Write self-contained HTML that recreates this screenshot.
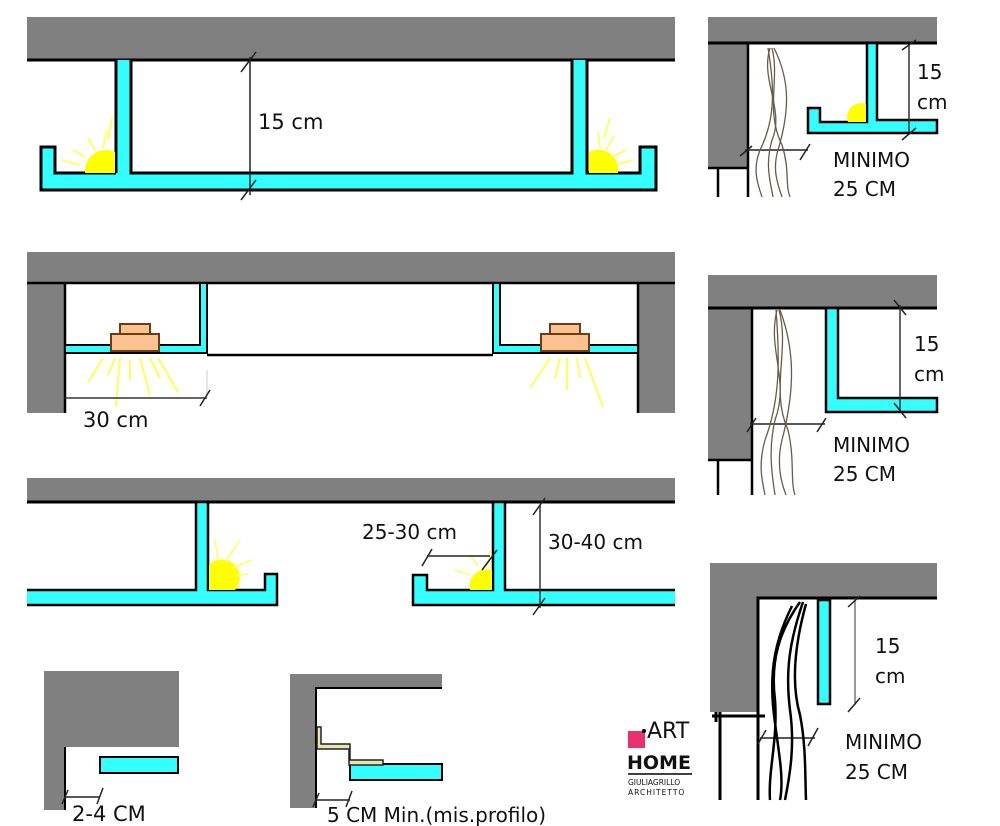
<!DOCTYPE html>
<html><head><meta charset="utf-8"><style>
html,body{margin:0;padding:0;background:#fff}
svg{display:block}
text{font-family:"DejaVu Sans","Liberation Sans",sans-serif;fill:#111}
</style></head><body>
<svg width="1000" height="826" viewBox="0 0 1000 826" xmlns="http://www.w3.org/2000/svg">
<defs>
<g id="sunL"><path d="M0,0 A17,17 0 0 1 34,0 Z" fill="#ffff00"/></g>
</defs>
<!-- ===== Panel 1 ===== -->
<rect x="27" y="17" width="648" height="43" fill="#808080"/>
<line x1="27" y1="60" x2="675" y2="60" stroke="#000" stroke-width="3"/>
<path d="M116,60 V173 H572 V60 H587 V173 H640 V147 H656 V190 H41 V147 H55 V173 H131 V60" fill="#33ffff" stroke="none"/>
<path d="M116,60 V173 M131,60 V173 H572 V60 M587,60 V173 H640 V147 H656 V190 H41 V147 H55 V173 H116" fill="none" stroke="#000" stroke-width="3"/>
<path d="M85,173 A21,21 0 0 1 115,152 V173 Z" fill="#ffff00"/>
<path d="M589,152 A20,20 0 0 1 618,173 H589 Z" fill="#ffff00"/>
<g stroke="#ffff66" stroke-width="2">
<line x1="103" y1="148" x2="107" y2="130"/><line x1="95" y1="150" x2="88" y2="138"/><line x1="85" y1="157" x2="73" y2="150"/><line x1="80" y1="165" x2="62" y2="160"/><line x1="108" y1="140" x2="112" y2="118"/>
<line x1="600" y1="148" x2="598" y2="132"/><line x1="606" y1="150" x2="614" y2="136"/><line x1="614" y1="156" x2="626" y2="150"/><line x1="618" y1="164" x2="633" y2="160"/><line x1="604" y1="138" x2="610" y2="118"/>
</g>
<line x1="250" y1="57" x2="250" y2="195" stroke="#222" stroke-width="1.5"/>
<line x1="241" y1="72" x2="256" y2="52" stroke="#222" stroke-width="1.5"/>
<line x1="241" y1="200" x2="256" y2="180" stroke="#222" stroke-width="1.5"/>
<text x="258" y="129" font-size="21">15 cm</text>

<!-- ===== Panel 2 (top right) ===== -->
<rect x="708" y="17" width="229" height="26" fill="#808080"/>
<rect x="708" y="43" width="40" height="125" fill="#808080"/>
<path d="M708,43 H937" stroke="#000" stroke-width="3"/>
<path d="M748,43 V197 M708,168 H748 M718,168 V197" stroke="#000" stroke-width="2.5" fill="none"/>
<path d="M867,43 V120 H808 V108 H820 V122 H867" fill="none"/>
<path d="M867,43 H877 V120 H937 V133 H808 V108 H820 V122 H867 Z" fill="#33ffff" stroke="#000" stroke-width="2.5"/>
<path d="M848,122 A14,14 0 0 1 866,104 V122 Z" fill="#ffff00"/>
<line x1="909" y1="44" x2="909" y2="132" stroke="#333" stroke-width="1.5"/>
<line x1="902" y1="50" x2="916" y2="40"/><line x1="902" y1="140" x2="916" y2="128" stroke="#222" stroke-width="1.5"/>
<line x1="902" y1="50" x2="916" y2="40" stroke="#222" stroke-width="1.5"/>
<line x1="745" y1="150" x2="808" y2="150" stroke="#222" stroke-width="1.5"/>
<line x1="740" y1="156" x2="752" y2="146" stroke="#222" stroke-width="1.5"/><line x1="800" y1="160" x2="810" y2="144" stroke="#222" stroke-width="1.5"/>
<g fill="none" stroke="#6b5a48" stroke-width="1.3">
<path d="M770,48 C760,80 785,110 772,140 C765,165 770,180 773,197"/>
<path d="M772,48 C780,80 765,110 782,145 C790,170 785,185 790,197"/>
<path d="M768,48 C775,90 775,120 760,150 C752,170 758,185 762,197"/>
<path d="M774,48 C790,80 790,110 778,150 C772,170 778,185 782,197"/>
</g>
<text x="917" y="79" font-size="20">15</text>
<text x="917" y="109" font-size="20">cm</text>
<text x="833" y="167" font-size="20">MINIMO</text>
<text x="833" y="196" font-size="20">25 CM</text>

<!-- ===== Panel 3 (middle right) ===== -->
<rect x="708" y="275" width="229" height="33" fill="#808080"/>
<rect x="708" y="308" width="44" height="152" fill="#808080"/>
<path d="M708,308 H937" stroke="#000" stroke-width="3"/>
<path d="M752,308 V495 M708,460 H752 M718,460 V495" stroke="#000" stroke-width="2.5" fill="none"/>
<path d="M826,308 H838 V398 H937 V412 H826 Z" fill="#33ffff" stroke="#000" stroke-width="2.5"/>
<line x1="900" y1="305" x2="900" y2="410" stroke="#333" stroke-width="1.5"/>
<line x1="894" y1="300" x2="906" y2="315" stroke="#222" stroke-width="1.5"/>
<line x1="894" y1="403" x2="906" y2="418" stroke="#222" stroke-width="1.5"/>
<line x1="750" y1="424" x2="825" y2="424" stroke="#222" stroke-width="1.5"/>
<line x1="747" y1="432" x2="756" y2="418" stroke="#222" stroke-width="1.5"/><line x1="817" y1="432" x2="826" y2="418" stroke="#222" stroke-width="1.5"/>
<g fill="none" stroke="#6b5a48" stroke-width="1.3">
<path d="M777,310 C767,350 790,380 775,420 C768,450 772,475 775,495"/>
<path d="M779,310 C790,350 770,390 788,430 C795,460 790,480 795,495"/>
<path d="M776,310 C780,360 780,400 765,440 C758,465 762,480 765,495"/>
<path d="M780,310 C795,350 795,390 782,440 C776,465 782,485 786,495"/>
</g>
<text x="914" y="351" font-size="20">15</text>
<text x="914" y="381" font-size="20">cm</text>
<text x="833" y="452" font-size="20">MINIMO</text>
<text x="833" y="481" font-size="20">25 CM</text>

<!-- ===== Panel row 2 ===== -->
<rect x="27" y="252" width="648" height="31" fill="#808080"/>
<rect x="27" y="283" width="38" height="130" fill="#808080"/>
<rect x="638" y="283" width="37" height="130" fill="#808080"/>
<path d="M27,283 H675 M65,283 V413 M638,283 V413" stroke="#000" stroke-width="2.5" fill="none"/>
<path d="M65,345 H200 V283 H207 V353 H65 Z" fill="#33ffff" stroke="#000" stroke-width="2"/>
<path d="M493,283 H500 V345 H638 V353 H493 Z" fill="#33ffff" stroke="#000" stroke-width="2"/>
<line x1="207" y1="355" x2="493" y2="355" stroke="#000" stroke-width="2.5"/>
<rect x="120" y="324" width="30" height="10" fill="#f9c28f" stroke="#6b3b1a" stroke-width="2"/>
<rect x="111" y="334" width="48" height="17" fill="#f9c28f" stroke="#6b3b1a" stroke-width="2"/>
<rect x="550" y="324" width="30" height="10" fill="#f9c28f" stroke="#6b3b1a" stroke-width="2"/>
<rect x="541" y="334" width="48" height="17" fill="#f9c28f" stroke="#6b3b1a" stroke-width="2"/>
<g stroke="#ffff55" stroke-width="2">
<line x1="103" y1="358" x2="88" y2="383"/><line x1="115" y1="358" x2="108" y2="375"/><line x1="120" y1="358" x2="116" y2="407"/><line x1="130" y1="360" x2="130" y2="380"/><line x1="140" y1="358" x2="150" y2="395"/><line x1="150" y1="358" x2="160" y2="378"/><line x1="158" y1="358" x2="178" y2="392"/>
<line x1="550" y1="358" x2="530" y2="388"/><line x1="560" y1="358" x2="555" y2="378"/><line x1="567" y1="358" x2="567" y2="390"/><line x1="577" y1="358" x2="580" y2="378"/><line x1="585" y1="358" x2="603" y2="407"/>
</g>
<line x1="65" y1="398" x2="207" y2="398" stroke="#333" stroke-width="1.5"/>
<line x1="207" y1="370" x2="207" y2="398" stroke="#ccc" stroke-width="1"/>
<line x1="200" y1="406" x2="210" y2="390" stroke="#222" stroke-width="1.5"/>
<text x="83" y="427" font-size="21">30 cm</text>

<!-- ===== Panel row 3 ===== -->
<rect x="27" y="478" width="648" height="24" fill="#808080"/>
<path d="M27,502 H675" stroke="#000" stroke-width="3"/>
<path d="M27,590 H196 V502 H208 V590 H265 V574 H277 V605 H27" fill="#33ffff" stroke="#000" stroke-width="2.5"/>
<path d="M675,590 H505 V502 H493 V590 H427 V575 H413 V605 H675" fill="#33ffff" stroke="#000" stroke-width="2.5"/>
<path d="M209,590 V565 A17,17 0 0 1 235,590 Z" fill="#ffff00"/>
<path d="M470,590 A17,17 0 0 1 492,570 V590 Z" fill="#ffff00"/>
<g stroke="#ffff77" stroke-width="1.8">
<line x1="218" y1="560" x2="215" y2="540"/><line x1="225" y1="562" x2="240" y2="540"/><line x1="232" y1="568" x2="252" y2="560"/><line x1="236" y1="576" x2="248" y2="574"/>
<line x1="488" y1="566" x2="490" y2="550"/><line x1="478" y1="566" x2="470" y2="555"/><line x1="470" y1="575" x2="455" y2="570"/>
</g>
<line x1="540" y1="505" x2="540" y2="608" stroke="#333" stroke-width="1.5"/>
<line x1="533" y1="515" x2="545" y2="498" stroke="#222" stroke-width="1.5"/>
<line x1="533" y1="615" x2="545" y2="598" stroke="#222" stroke-width="1.5"/>
<line x1="427" y1="556" x2="490" y2="556" stroke="#222" stroke-width="1.5"/>
<line x1="422" y1="566" x2="432" y2="549" stroke="#222" stroke-width="1.5"/>
<line x1="482" y1="570" x2="497" y2="550" stroke="#222" stroke-width="1.5"/>
<text x="362" y="539" font-size="20">25-30 cm</text>
<text x="548" y="549" font-size="20">30-40 cm</text>

<!-- ===== bottom left small ===== -->
<rect x="44" y="671" width="135" height="76" fill="#808080"/>
<rect x="44" y="747" width="21" height="63" fill="#808080"/>
<line x1="65" y1="747" x2="65" y2="810" stroke="#000" stroke-width="2"/>
<rect x="100" y="757" width="78" height="16" fill="#33ffff" stroke="#000" stroke-width="2"/>
<line x1="65" y1="797" x2="100" y2="797" stroke="#222" stroke-width="1.5"/>
<line x1="62" y1="804" x2="68" y2="790" stroke="#222" stroke-width="1.5"/>
<line x1="97" y1="804" x2="103" y2="788" stroke="#222" stroke-width="1.5"/>
<text x="72" y="821" font-size="21">2-4 CM</text>

<!-- ===== bottom middle ===== -->
<rect x="290" y="674" width="152" height="14" fill="#808080"/>
<rect x="290" y="688" width="26" height="120" fill="#808080"/>
<path d="M442,688 H316 V808" stroke="#000" stroke-width="2" fill="none"/>
<rect x="350" y="764" width="92" height="16" fill="#33ffff" stroke="#000" stroke-width="2"/>
<path d="M317,727 H321 V744 H350 V760 H383 V765 H349 V749 H317 Z" fill="#e8e6b0" stroke="#222" stroke-width="1.5"/>
<line x1="316" y1="800" x2="350" y2="800" stroke="#222" stroke-width="1.5"/>
<line x1="313" y1="807" x2="319" y2="793" stroke="#222" stroke-width="1.5"/>
<line x1="346" y1="807" x2="352" y2="791" stroke="#222" stroke-width="1.5"/>
<text x="327" y="822" font-size="20">5 CM Min.(mis.profilo)</text>

<!-- ===== bottom right ===== -->
<rect x="710" y="563" width="227" height="35" fill="#808080"/>
<rect x="710" y="598" width="48" height="114" fill="#808080"/>
<path d="M937,598 H758 V800" stroke="#000" stroke-width="3" fill="none"/>
<path d="M712,716 H765 M720,712 V800 M716,712 V722" stroke="#000" stroke-width="3" fill="none"/>
<rect x="818" y="600" width="12" height="104" fill="#33ffff" stroke="#000" stroke-width="2.5"/>
<line x1="855" y1="598" x2="855" y2="705" stroke="#555" stroke-width="1.2"/>
<line x1="848" y1="607" x2="860" y2="596" stroke="#222" stroke-width="1.5"/>
<line x1="848" y1="712" x2="860" y2="698" stroke="#222" stroke-width="1.5"/>
<line x1="760" y1="738" x2="815" y2="738" stroke="#222" stroke-width="1.5"/>
<line x1="758" y1="744" x2="766" y2="730" stroke="#222" stroke-width="1.5"/>
<line x1="808" y1="746" x2="818" y2="728" stroke="#222" stroke-width="1.5"/>
<g fill="none" stroke="#000" stroke-width="2.5">
<path d="M800,602 C780,630 770,660 775,700 C778,740 768,770 770,800"/>
<path d="M803,602 C790,640 785,670 790,710 C795,745 790,775 785,800"/>
<path d="M792,606 C775,640 770,670 773,705 C776,740 785,775 780,800"/>
<path d="M806,604 C796,640 790,680 800,715 C806,745 805,775 806,800"/>
</g>
<text x="875" y="653" font-size="20">15</text>
<text x="875" y="683" font-size="20">cm</text>
<text x="845" y="749" font-size="20">MINIMO</text>
<text x="845" y="779" font-size="20">25 CM</text>

<!-- ===== logo ===== -->
<rect x="628" y="731" width="17" height="17" fill="#e8306e"/>
<circle cx="644" cy="731" r="2" fill="#000"/>
<text x="647" y="738" font-size="22" font-family="Liberation Sans">ART</text>
<text x="627" y="769" font-size="19" font-weight="bold" font-family="Liberation Sans">HOME</text>
<line x1="628" y1="774" x2="692" y2="774" stroke="#000" stroke-width="1.5"/>
<text x="628" y="785" font-size="7.5" font-family="Liberation Sans">GIULIAGRILLO</text>
<text x="628" y="795" font-size="7.5" font-family="Liberation Sans" letter-spacing="1">ARCHITETTO</text>
</svg>
</body></html>
